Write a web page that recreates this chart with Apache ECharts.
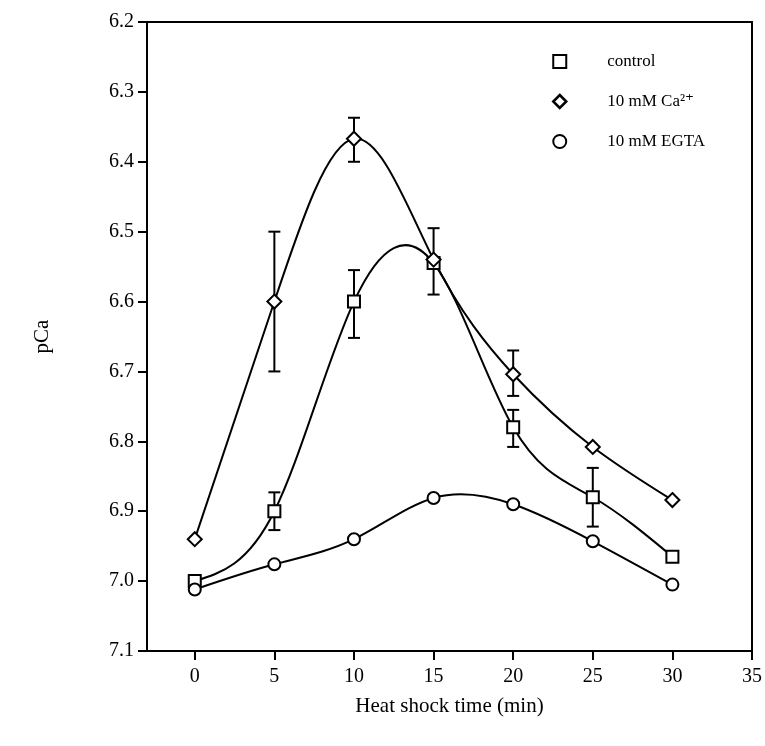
<!DOCTYPE html>
<html>
<head>
<meta charset="utf-8">
<script src="https://cdn.jsdelivr.net/npm/echarts@6/dist/echarts.min.js"></script>
<style>
  html, body { margin: 0; padding: 0; background: #fff; }
  #chart { width: 765px; height: 746px; }
</style>
</head>
<body>
<div id="chart"></div>
<script>
// 热休克时间 vs pCa
var times = [0, 5, 10, 15, 20, 25, 30];
var xTicks = [0, 5, 10, 15, 20, 25, 30, 35];

var controlVals = [7.00, 6.90, 6.60, 6.545, 6.78, 6.88, 6.965];
var controlLo   = [null, 6.873, 6.555, 6.495, 6.755, 6.838, null];
var controlHi   = [null, 6.927, 6.652, 6.59, 6.808, 6.922, null];

var caVals = [6.94, 6.60, 6.367, 6.54, 6.704, 6.808, 6.884];
var caLo   = [null, 6.50, 6.337, null, 6.67, null, null];
var caHi   = [null, 6.70, 6.40, null, 6.735, null, null];

var egtaVals = [7.012, 6.976, 6.94, 6.881, 6.89, 6.943, 7.005];

var serif = '"Liberation Serif", "DejaVu Serif", serif';

function pairs(vals) {
  return times.map(function (t, i) { return [t, vals[i]]; });
}
function errPairs(lo, hi) {
  var out = [];
  times.forEach(function (t, i) {
    if (lo[i] != null) out.push([t, lo[i], hi[i]]);
  });
  return out;
}

function renderErr(params, api) {
  var x = api.value(0);
  var top = api.coord([x, api.value(1)]);
  var bot = api.coord([x, api.value(2)]);
  var hw = 6;
  var style = { stroke: '#000', lineWidth: 2 };
  return {
    type: 'group',
    children: [
      { type: 'line', shape: { x1: top[0], y1: top[1], x2: bot[0], y2: bot[1] }, style: style },
      { type: 'line', shape: { x1: top[0] - hw, y1: top[1], x2: top[0] + hw, y2: top[1] }, style: style },
      { type: 'line', shape: { x1: bot[0] - hw, y1: bot[1], x2: bot[0] + hw, y2: bot[1] }, style: style }
    ]
  };
}

// 自然三次样条曲线（像素坐标）
function splinePath(pts) {
  var n = pts.length;
  var h = [], M = new Array(n).fill(0);
  for (var i = 0; i < n - 1; i++) h.push(pts[i + 1][0] - pts[i][0]);
  // 追赶法
  var a = [], b = [], c = [], d = [];
  for (var i = 1; i < n - 1; i++) {
    a.push(h[i - 1]);
    b.push(2 * (h[i - 1] + h[i]));
    c.push(h[i]);
    d.push(6 * ((pts[i + 1][1] - pts[i][1]) / h[i] - (pts[i][1] - pts[i - 1][1]) / h[i - 1]));
  }
  var m = b.length;
  for (var i = 1; i < m; i++) {
    var w = a[i] / b[i - 1];
    b[i] -= w * c[i - 1];
    d[i] -= w * d[i - 1];
  }
  var sol = new Array(m);
  for (var i = m - 1; i >= 0; i--) {
    sol[i] = (d[i] - (i < m - 1 ? c[i] * sol[i + 1] : 0)) / b[i];
  }
  for (var i = 0; i < m; i++) M[i + 1] = sol[i];
  var slope = [];
  for (var i = 0; i < n - 1; i++) {
    slope.push((pts[i + 1][1] - pts[i][1]) / h[i] - h[i] * (2 * M[i] + M[i + 1]) / 6);
  }
  slope.push((pts[n - 1][1] - pts[n - 2][1]) / h[n - 2] + h[n - 2] * (M[n - 2] + 2 * M[n - 1]) / 6);
  var p = 'M' + pts[0][0] + ' ' + pts[0][1];
  for (var i = 0; i < n - 1; i++) {
    var t = h[i] / 3;
    p += ' C' + (pts[i][0] + t) + ' ' + (pts[i][1] + slope[i] * t) + ' ' +
      (pts[i + 1][0] - t) + ' ' + (pts[i + 1][1] - slope[i + 1] * t) + ' ' +
      pts[i + 1][0] + ' ' + pts[i + 1][1];
  }
  return p;
}

function curveRenderer(vals) {
  return function (params, api) {
    if (params.dataIndex !== 0) return null;
    var pts = times.map(function (t, i) { return api.coord([t, vals[i]]); });
    return {
      type: 'path',
      shape: { pathData: splinePath(pts) },
      style: { fill: 'none', stroke: '#000', lineWidth: 2 }
    };
  };
}

var chart = echarts.init(document.getElementById('chart'));
var markBase = {
  type: 'line',
  symbolSize: 12,
  lineStyle: { width: 0, opacity: 0 },
  itemStyle: { color: '#000', borderColor: '#000', borderWidth: 2 },
  z: 4
};

var option = {
  backgroundColor: '#fff',
  animation: false,
  grid: { left: 147, right: 13, top: 22, bottom: 95 },
  legend: {
    orient: 'vertical',
    left: 547,
    top: 48,
    itemGap: 23,
    itemWidth: 13,
    itemHeight: 13,
    textStyle: { fontFamily: serif, fontSize: 17, color: '#000', padding: [0, 0, 0, 36] },
    data: [
      { name: 'control', icon: 'rect', itemStyle: { color: '#fff', borderColor: '#000', borderWidth: 2 } },
      { name: '10 mM Ca²⁺', icon: 'diamond', itemStyle: { color: '#fff', borderColor: '#000', borderWidth: 2.5 } },
      { name: '10 mM EGTA', icon: 'circle', itemStyle: { color: '#fff', borderColor: '#000', borderWidth: 2 } }
    ]
  },
  xAxis: [{
    type: 'value',
    min: -3,
    max: 35,
    name: 'Heat shock time (min)',
    nameLocation: 'middle',
    nameGap: 45,
    nameTextStyle: { fontFamily: serif, fontSize: 21, color: '#000' },
    axisLine: { onZero: false, lineStyle: { color: '#000', width: 2 } },
    axisTick: { show: true, customValues: xTicks, length: 9, lineStyle: { color: '#000', width: 2 } },
    axisLabel: { customValues: xTicks, fontFamily: serif, fontSize: 20, color: '#000', margin: 16 },
    splitLine: { show: false }
  }, {
    type: 'value',
    min: -3,
    max: 35,
    position: 'top',
    axisLine: { show: true, onZero: false, lineStyle: { color: '#000', width: 2 } },
    axisTick: { show: false },
    axisLabel: { show: false },
    splitLine: { show: false }
  }],
  yAxis: [{
    type: 'value',
    inverse: true,
    min: 6.2,
    max: 7.1,
    interval: 0.1,
    name: 'pCa',
    nameLocation: 'middle',
    nameRotate: 90,
    nameGap: 94,
    nameTextStyle: { fontFamily: serif, fontSize: 21, color: '#000' },
    axisLine: { show: true, onZero: false, lineStyle: { color: '#000', width: 2 } },
    axisTick: { show: true, length: 9, lineStyle: { color: '#000', width: 2 } },
    axisLabel: {
      fontFamily: serif, fontSize: 20, color: '#000', margin: 13,
      formatter: function (v) { return v.toFixed(1); }
    },
    splitLine: { show: false }
  }, {
    type: 'value',
    inverse: true,
    min: 6.2,
    max: 7.1,
    position: 'right',
    axisLine: { show: true, onZero: false, lineStyle: { color: '#000', width: 2 } },
    axisTick: { show: false },
    axisLabel: { show: false },
    splitLine: { show: false }
  }],
  series: [
    Object.assign({}, markBase, { name: 'control', symbol: 'emptyRect', data: pairs(controlVals) }),
    Object.assign({}, markBase, { name: '10 mM Ca²⁺', symbol: 'emptyDiamond', symbolSize: 14, data: pairs(caVals) }),
    Object.assign({}, markBase, { name: '10 mM EGTA', symbol: 'emptyCircle', data: pairs(egtaVals) }),
    { type: 'custom', name: 'curveControl', renderItem: curveRenderer(controlVals), data: pairs(controlVals), z: 3 },
    { type: 'custom', name: 'curveCa', renderItem: curveRenderer(caVals), data: pairs(caVals), z: 3 },
    { type: 'custom', name: 'curveEgta', renderItem: curveRenderer(egtaVals), data: pairs(egtaVals), z: 3 },
    { type: 'custom', name: 'errControl', renderItem: renderErr, data: errPairs(controlLo, controlHi), z: 2 },
    { type: 'custom', name: 'errCa', renderItem: renderErr, data: errPairs(caLo, caHi), z: 2 }
  ]
};
chart.setOption(option);
</script>
</body>
</html>
